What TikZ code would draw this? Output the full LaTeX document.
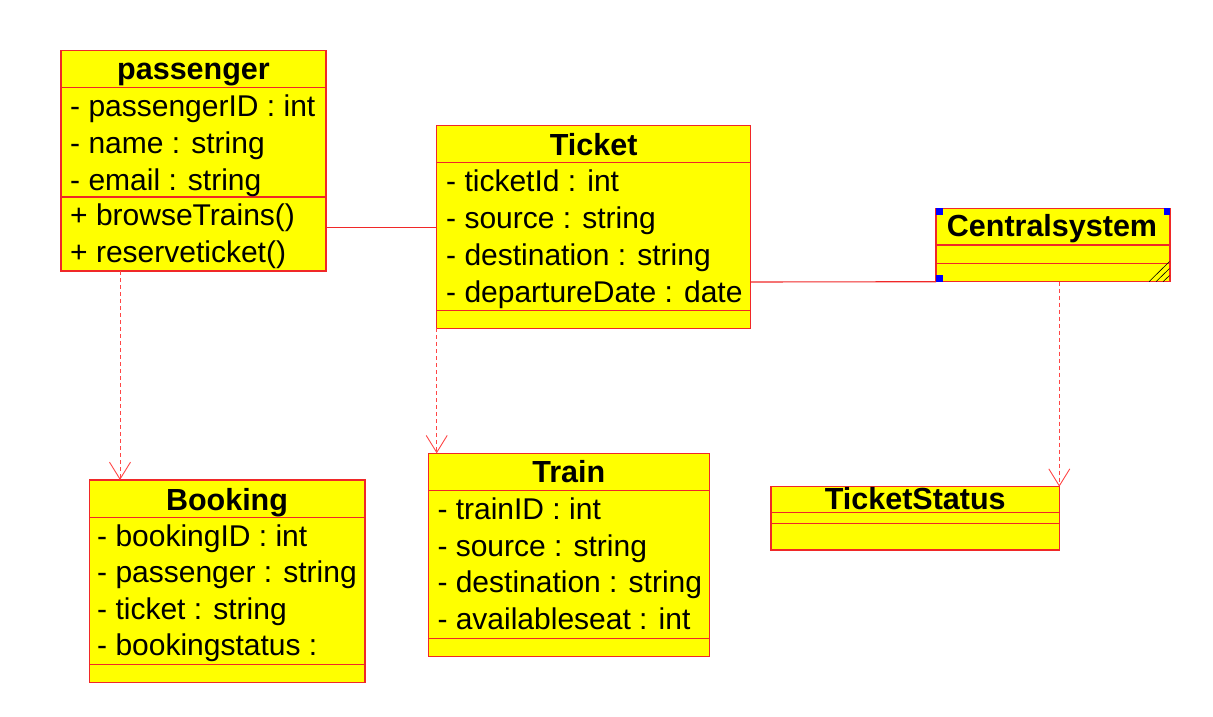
\documentclass[tikz,border=0pt]{standalone}
\usepackage{fontspec}
\setmainfont{Liberation Sans}
\usetikzlibrary{arrows.meta}
\definecolor{umlfill}{RGB}{255,255,0}
\definecolor{umlline}{RGB}{240,40,40}
\definecolor{deplink}{RGB}{255,70,70}
\definecolor{handle}{RGB}{0,0,255}
\tikzset{
  cls/.style={draw=umlline, fill=umlfill, line width=1.1pt, inner sep=0pt, outer sep=0pt, anchor=north west},
  sepline/.style={draw=umlline, line width=1.1pt},
  ttl/.style={anchor=base, inner sep=0pt, font=\fontsize{30.5}{32}\selectfont\bfseries},
  attr/.style={anchor=base west, inner sep=0pt, font=\fontsize{30}{32}\selectfont},
  assoc/.style={draw=umlline, line width=1.1pt},
  dep/.style={draw=deplink, line width=1pt, dash pattern=on 4pt off 3pt, -{Straight Barb[length=17pt,width=21pt,line width=0.9pt]}},
  hd/.style={fill=handle, draw=none, inner sep=0pt, minimum size=6.5pt, outer sep=0pt},
}
\begin{document}
\begin{tikzpicture}[x=1pt,y=-1pt]
\useasboundingbox (0,0) rectangle (1213,717);

% passenger
\node[cls, minimum width=265pt, minimum height=220.3pt] (passenger) at (61,50.7) {};
\draw[sepline] (61,87.3) -- (326,87.3);
\draw[sepline] (61,197) -- (326,197);
\node[ttl] (pT) at (193.5,79.3) {passenger};
\node[attr] (p1) at (70,116.7) {- passengerID : int};
\node[attr] (p2) at (70,153.4) {- name : string};
\node[attr] (p3) at (70,190.1) {- email : string};
\node[attr] (p4) at (70,225.5) {+ browseTrains()};
\node[attr] (p5) at (70,262) {+ reserveticket()};

% Ticket
\node[cls, minimum width=314pt, minimum height=202.6pt] (ticket) at (436.7,125.7) {};
\draw[sepline] (436.7,162.7) -- (750.7,162.7);
\draw[sepline] (436.7,310.7) -- (750.7,310.7);
\node[ttl] (tT) at (593.7,155) {Ticket};
\node[attr] (t1) at (446,191.7) {- ticketId : int};
\node[attr] (t2) at (446,228.7) {- source : string};
\node[attr] (t3) at (446,265.7) {- destination : string};
\node[attr] (t4) at (446,302.2) {- departureDate : date};

% Centralsystem
\node[cls, minimum width=234pt, minimum height=73.4pt] (central) at (936,208.3) {};
\draw[sepline] (936,245) -- (1170,245);
\draw[sepline] (936,263.3) -- (1170,263.3);
\node[ttl] (cT) at (1052,236.7) {Centralsystem};
\draw[black, line width=0.6pt] (1149,281.7) -- (1169.5,261.5)
  (1156,281.7) -- (1169.5,268.5) (1163,281.7) -- (1169.5,275.5);
\node[hd, anchor=north west] (h1) at (936,208.3) {};
\node[hd, anchor=north east] (h2) at (1170,208.3) {};
\node[hd, anchor=south west] (h3) at (936,281.7) {};

% Booking
\node[cls, minimum width=275.7pt, minimum height=202.7pt] (booking) at (89.3,480) {};
\draw[sepline] (89.3,517.3) -- (365,517.3);
\draw[sepline] (89.3,664.3) -- (365,664.3);
\node[ttl] (bT) at (227,510) {Booking};
\node[attr] (b1) at (97,546) {- bookingID : int};
\node[attr] (b2) at (97,582.7) {- passenger : string};
\node[attr] (b3) at (97,619.3) {- ticket : string};
\node[attr] (b4) at (97,655.5) {- bookingstatus :};

% Train
\node[cls, minimum width=281pt, minimum height=203.4pt] (train) at (428.3,453.3) {};
\draw[sepline] (428.3,490.7) -- (709.3,490.7);
\draw[sepline] (428.3,638.3) -- (709.3,638.3);
\node[ttl] (rT) at (568.8,482.7) {Train};
\node[attr] (r1) at (437.3,519.3) {- trainID : int};
\node[attr] (r2) at (437.3,556) {- source : string};
\node[attr] (r3) at (437.3,592.7) {- destination : string};
\node[attr] (r4) at (437.3,629.4) {- availableseat : int};

% TicketStatus
\node[cls, minimum width=288.3pt, minimum height=63.3pt] (status) at (771,486.7) {};
\draw[sepline] (771,512.3) -- (1059.3,512.3);
\draw[sepline] (771,523.3) -- (1059.3,523.3);
\node[ttl] (sT) at (915.3,509.3) {TicketStatus};

% associations
\draw[assoc] (passenger.east |- 0,227.3) -- (ticket.west |- 0,227.3);
\draw[assoc] (ticket.east |- 0,282) -- (central.south west);

% dependencies
\draw[dep] (passenger.south -| 120,0) -- (booking.north -| 120,0);
\draw[dep] (ticket.south west) -- (train.north -| ticket.south west);
\draw[dep] (central.south -| status.north east) -- (status.north east);
\end{tikzpicture}
\end{document}
